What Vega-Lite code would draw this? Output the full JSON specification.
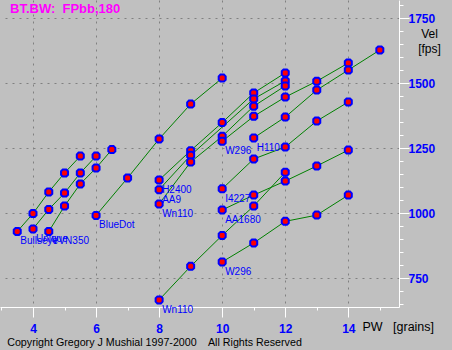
{
  "$schema": "https://vega.github.io/schema/vega-lite/v6.json",
  "width": 399,
  "height": 307,
  "autosize": {"type": "none"},
  "padding": {"left": 0, "top": 0, "right": 53, "bottom": 43},
  "background": "#C0C0C0",
  "title": {
    "text": "BT.BW:\u00a0 FPbb,180",
    "anchor": "start",
    "frame": "group",
    "orient": "top",
    "offset": 0,
    "baseline": "middle",
    "dx": 10,
    "dy": 23,
    "color": "#FF00FF",
    "font": "Liberation Sans",
    "fontSize": 13,
    "fontWeight": "bold"
  },
  "config": {
    "view": {"stroke": null},
    "axis": {"labelFont": "Liberation Sans", "titleFont": "Liberation Sans"}
  },
  "datasets": {
    "loads": [
      {"grp": "Bullseye", "pw": 3.5, "vel": 930},
      {"grp": "Bullseye", "pw": 4.0, "vel": 999},
      {"grp": "Bullseye", "pw": 4.5, "vel": 1082},
      {"grp": "Bullseye", "pw": 5.0, "vel": 1155},
      {"grp": "Bullseye", "pw": 5.5, "vel": 1220},
      {"grp": "Unique", "pw": 4.0, "vel": 940},
      {"grp": "Unique", "pw": 4.5, "vel": 1015},
      {"grp": "Unique", "pw": 5.0, "vel": 1078},
      {"grp": "Unique", "pw": 5.5, "vel": 1155},
      {"grp": "Unique", "pw": 6.0, "vel": 1220},
      {"grp": "VVN350", "pw": 4.5, "vel": 930},
      {"grp": "VVN350", "pw": 5.0, "vel": 1028},
      {"grp": "VVN350", "pw": 5.5, "vel": 1113},
      {"grp": "VVN350", "pw": 6.0, "vel": 1174},
      {"grp": "VVN350", "pw": 6.5, "vel": 1245},
      {"grp": "BlueDot", "pw": 6, "vel": 992},
      {"grp": "BlueDot", "pw": 7, "vel": 1136},
      {"grp": "BlueDot", "pw": 8, "vel": 1286},
      {"grp": "BlueDot", "pw": 9, "vel": 1420},
      {"grp": "BlueDot", "pw": 10, "vel": 1520},
      {"grp": "H2400", "pw": 8, "vel": 1128},
      {"grp": "H2400", "pw": 9, "vel": 1241},
      {"grp": "H2400", "pw": 10, "vel": 1349},
      {"grp": "H2400", "pw": 11, "vel": 1463},
      {"grp": "H2400", "pw": 12, "vel": 1540},
      {"grp": "AA9", "pw": 8, "vel": 1091},
      {"grp": "AA9", "pw": 9, "vel": 1223},
      {"grp": "AA9", "pw": 11, "vel": 1440},
      {"grp": "AA9", "pw": 12, "vel": 1509},
      {"grp": "Wn110 upper", "pw": 8, "vel": 1036},
      {"grp": "Wn110 upper", "pw": 9, "vel": 1197},
      {"grp": "Wn110 upper", "pw": 10, "vel": 1296},
      {"grp": "Wn110 upper", "pw": 11, "vel": 1412},
      {"grp": "Wn110 upper", "pw": 12, "vel": 1490},
      {"grp": "W296 upper", "pw": 10, "vel": 1277},
      {"grp": "W296 upper", "pw": 11, "vel": 1373},
      {"grp": "W296 upper", "pw": 12, "vel": 1447},
      {"grp": "W296 upper", "pw": 13, "vel": 1508},
      {"grp": "W296 upper", "pw": 14, "vel": 1578},
      {"grp": "H110", "pw": 11, "vel": 1290},
      {"grp": "H110", "pw": 12, "vel": 1370},
      {"grp": "H110", "pw": 13, "vel": 1474},
      {"grp": "H110", "pw": 14, "vel": 1551},
      {"grp": "H110", "pw": 15, "vel": 1628},
      {"grp": "I4227", "pw": 10, "vel": 1094},
      {"grp": "I4227", "pw": 11, "vel": 1209},
      {"grp": "I4227", "pw": 12, "vel": 1255},
      {"grp": "I4227", "pw": 13, "vel": 1355},
      {"grp": "I4227", "pw": 14, "vel": 1428},
      {"grp": "AA1680", "pw": 10, "vel": 1013},
      {"grp": "AA1680", "pw": 11, "vel": 1070},
      {"grp": "AA1680", "pw": 12, "vel": 1124},
      {"grp": "AA1680", "pw": 13, "vel": 1182},
      {"grp": "AA1680", "pw": 14, "vel": 1243},
      {"grp": "Wn110 lower", "pw": 8, "vel": 667},
      {"grp": "Wn110 lower", "pw": 9, "vel": 796},
      {"grp": "Wn110 lower", "pw": 10, "vel": 915},
      {"grp": "Wn110 lower", "pw": 11, "vel": 1028},
      {"grp": "Wn110 lower", "pw": 12, "vel": 1158},
      {"grp": "W296 lower", "pw": 10, "vel": 813},
      {"grp": "W296 lower", "pw": 11, "vel": 886},
      {"grp": "W296 lower", "pw": 12, "vel": 969},
      {"grp": "W296 lower", "pw": 13, "vel": 993},
      {"grp": "W296 lower", "pw": 14, "vel": 1070}
    ],
    "labels": [
      {"powder": "Bullseye", "pw": 3.5, "vel": 930},
      {"powder": "VVN350", "pw": 4.5, "vel": 930},
      {"powder": "Unique", "pw": 4.0, "vel": 940},
      {"powder": "BlueDot", "pw": 6, "vel": 992},
      {"powder": "H2400", "pw": 8, "vel": 1128},
      {"powder": "AA9", "pw": 8, "vel": 1091},
      {"powder": "Wn110", "pw": 8, "vel": 1036},
      {"powder": "W296", "pw": 10, "vel": 1277},
      {"powder": "H110", "pw": 11, "vel": 1290},
      {"powder": "I4227", "pw": 10, "vel": 1094},
      {"powder": "AA1680", "pw": 10, "vel": 1013},
      {"powder": "Wn110", "pw": 8, "vel": 667},
      {"powder": "W296", "pw": 10, "vel": 813}
    ]
  },
  "resolve": {"axis": {"x": "independent", "y": "independent"}},
  "layer": [
    {
      "data": {"name": "loads"},
      "mark": {"type": "line", "color": "#008000", "strokeWidth": 1},
      "encoding": {
        "x": {
          "field": "pw", "type": "quantitative",
          "scale": {"domain": [2.953, 15.608], "nice": false, "zero": false},
          "axis": {
            "orient": "bottom",
            "values": [3, 3.5, 4, 4.5, 5, 5.5, 6, 6.5, 7, 7.5, 8, 8.5, 9, 9.5, 10, 10.5, 11, 11.5, 12, 12.5, 13, 13.5, 14, 14.5, 15, 15.5],
            "format": "d",
            "labelExpr": "datum.value % 2 === 0 ? datum.label : ''",
            "domainColor": "#FFFFFF",
            "domainWidth": 1,
            "tickColor": "#FFFFFF",
            "tickWidth": 1,
            "tickSize": {"condition": {"test": "datum.value % 2 === 0", "value": 10}, "value": 3},
            "grid": true,
            "gridColor": "#808080",
            "gridDash": [2, 5],
            "gridWidth": 1,
            "gridOpacity": {"condition": {"test": "datum.value % 2 === 0", "value": 1}, "value": 0},
            "labelColor": "#0000FF",
            "labelFontWeight": "bold",
            "labelFontSize": 12,
            "labelPadding": 6,
            "labelFlush": false,
            "labelOverlap": false,
            "title": "PW\u00a0\u00a0 [grains]",
            "titleColor": "#000000",
            "titleFontWeight": "normal",
            "titleFontSize": 12.5,
            "titleAlign": "left",
            "titleAnchor": "start",
            "titleBaseline": "middle",
            "titleX": 362,
            "titleY": 19
          }
        },
        "y": {
          "field": "vel", "type": "quantitative",
          "scale": {"domain": [639.6, 1820.4], "nice": false, "zero": false},
          "axis": {
            "orient": "right",
            "values": [650, 700, 750, 800, 850, 900, 950, 1000, 1050, 1100, 1150, 1200, 1250, 1300, 1350, 1400, 1450, 1500, 1550, 1600, 1650, 1700, 1750, 1800],
            "format": "d",
            "labelExpr": "datum.value % 250 === 0 ? datum.label : ''",
            "domainColor": "#FFFFFF",
            "domainWidth": 1,
            "tickColor": "#FFFFFF",
            "tickWidth": 1,
            "tickSize": {"condition": {"test": "datum.value % 250 === 0", "value": 10}, "value": 4},
            "grid": true,
            "gridColor": "#808080",
            "gridDash": [2, 5],
            "gridWidth": 1,
            "gridOpacity": {"condition": {"test": "datum.value % 250 === 0", "value": 1}, "value": 0},
            "labelColor": "#0000FF",
            "labelFontWeight": "bold",
            "labelFontSize": 12,
            "labelPadding": -1,
            "labelBaseline": "middle",
            "labelFlush": false,
            "labelOverlap": false,
            "title": ["Vel", "[fps]"],
            "titleColor": "#000000",
            "titleFontWeight": "normal",
            "titleFontSize": 12,
            "titleAngle": 0,
            "titleAlign": "center",
            "titleBaseline": "top",
            "titleLineHeight": 15,
            "titleX": 30,
            "titleY": 28
          }
        },
        "detail": {"field": "grp", "type": "nominal"}
      }
    },
    {
      "data": {"name": "loads"},
      "mark": {
        "type": "point",
        "shape": "M-1,-0.5L-0.5,-1L0.5,-1L1,-0.5L1,0.5L0.5,1L-0.5,1L-1,0.5Z",
        "size": 49,
        "filled": true,
        "fill": "#FF0000",
        "stroke": "#0000FF",
        "strokeWidth": 2,
        "opacity": 1
      },
      "encoding": {
        "x": {
          "field": "pw", "type": "quantitative",
          "axis": {
            "orient": "bottom",
            "domain": false,
            "ticks": false,
            "labels": false,
            "grid": false,
            "title": "Copyright Gregory J Mushial 1997-2000\u00a0\u00a0\u00a0 All Rights Reserved",
            "titleColor": "#000000",
            "titleFontWeight": "normal",
            "titleFontSize": 10.7,
            "titleAlign": "left",
            "titleAnchor": "start",
            "titleBaseline": "middle",
            "titleX": 6.7,
            "titleY": 35.7
          }
        },
        "y": {"field": "vel", "type": "quantitative", "axis": null}
      }
    },
    {
      "data": {"name": "labels"},
      "mark": {
        "type": "text",
        "align": "left",
        "baseline": "middle",
        "dx": 3,
        "dy": 10,
        "color": "#0000FF",
        "font": "Liberation Sans",
        "fontSize": 10
      },
      "encoding": {
        "x": {"field": "pw", "type": "quantitative", "axis": null},
        "y": {"field": "vel", "type": "quantitative", "axis": null},
        "text": {"field": "powder"}
      }
    }
  ]
}
